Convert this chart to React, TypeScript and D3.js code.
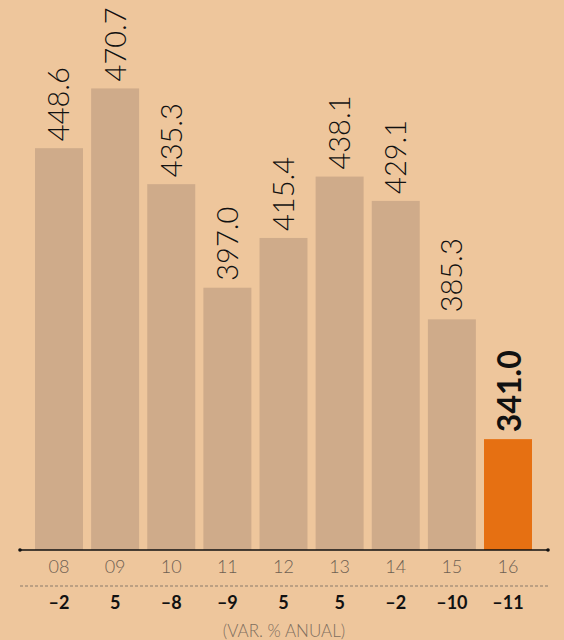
import React, { useRef, useEffect } from 'react';
import * as d3 from 'd3';

const years = ['08', '09', '10', '11', '12', '13', '14', '15', '16'];
const values = [448.6, 470.7, 435.3, 397.0, 415.4, 438.1, 429.1, 385.3, 341.0];
const changes = ['–2', '5', '–8', '–9', '5', '5', '–2', '–10', '–11'];

const App = () => {
  const ref = useRef(null);

  useEffect(() => {
    document.body.style.margin = '0';
    const width = 564;
    const height = 640;
    const base = 550;

    d3.select(ref.current).select('svg').remove();

    const svg = d3.select(ref.current)
      .append('svg')
      .attr('width', width)
      .attr('height', height)
      .style('display', 'block');

    svg.append('rect')
      .attr('width', width)
      .attr('height', height)
      .attr('fill', '#eec69c');

    const x = d3.scaleBand()
      .domain(years)
      .range([30.94, 536.06])
      .paddingInner(0.1448)
      .paddingOuter(0.0724);

    const y = d3.scaleLinear()
      .domain([300, 500])
      .range([base, base - 540.8]);

    const last = years.length - 1;

    svg.selectAll('.bar')
      .data(values)
      .enter()
      .append('rect')
      .attr('class', 'bar')
      .attr('x', (d, i) => x(years[i]))
      .attr('y', d => y(d))
      .attr('width', x.bandwidth())
      .attr('height', d => base - y(d))
      .attr('fill', (d, i) => i === last ? '#e67012' : '#cfab8a');

    svg.selectAll('.val')
      .data(values)
      .enter()
      .append('text')
      .attr('class', 'val')
      .attr('transform', (d, i) => `translate(${x(years[i]) + x.bandwidth() / 2 + (i === last ? 1 : 0)},${y(d) - 7}) rotate(-90)`)
      .attr('dy', '0.36em')
      .attr('font-family', 'Lato, "Open Sans", sans-serif')
      .attr('font-size', (d, i) => i === last ? 32 : 29)
      .attr('font-weight', (d, i) => i === last ? 700 : 300)
      .attr('fill', '#111')
      .text(d => d.toFixed(1));

    svg.append('line')
      .attr('x1', 20).attr('x2', 548)
      .attr('y1', base).attr('y2', base)
      .attr('stroke', '#111')
      .attr('stroke-width', 1.3);

    svg.selectAll('.dot')
      .data([20, 548])
      .enter()
      .append('circle')
      .attr('cx', d => d)
      .attr('cy', base)
      .attr('r', 1.8)
      .attr('fill', '#111');

    svg.selectAll('.yr')
      .data(years)
      .enter()
      .append('text')
      .attr('x', d => x(d) + x.bandwidth() / 2)
      .attr('y', 573)
      .attr('text-anchor', 'middle')
      .attr('font-family', 'Lato, "Open Sans", sans-serif')
      .attr('font-size', 18)
      .attr('font-weight', 300)
      .attr('fill', '#6e6052')
      .text(d => d);

    svg.append('line')
      .attr('x1', 20).attr('x2', 548)
      .attr('y1', 586).attr('y2', 586)
      .attr('stroke', '#8a7a6a')
      .attr('stroke-width', 1)
      .attr('stroke-dasharray', '3,2');

    svg.selectAll('.chg')
      .data(changes)
      .enter()
      .append('text')
      .attr('x', (d, i) => x(years[i]) + x.bandwidth() / 2)
      .attr('y', 609)
      .attr('text-anchor', 'middle')
      .attr('font-family', 'Lato, "Open Sans", sans-serif')
      .attr('font-size', 18)
      .attr('font-weight', 700)
      .attr('fill', '#111')
      .text(d => d);

    svg.append('text')
      .attr('x', 284)
      .attr('y', 637)
      .attr('text-anchor', 'middle')
      .attr('font-family', 'Lato, "Open Sans", sans-serif')
      .attr('font-size', 17)
      .attr('font-weight', 300)
      .attr('fill', '#7e6e5e')
      .text('(VAR. % ANUAL)');
  }, []);

  return <div ref={ref} />;
};

export default App;
